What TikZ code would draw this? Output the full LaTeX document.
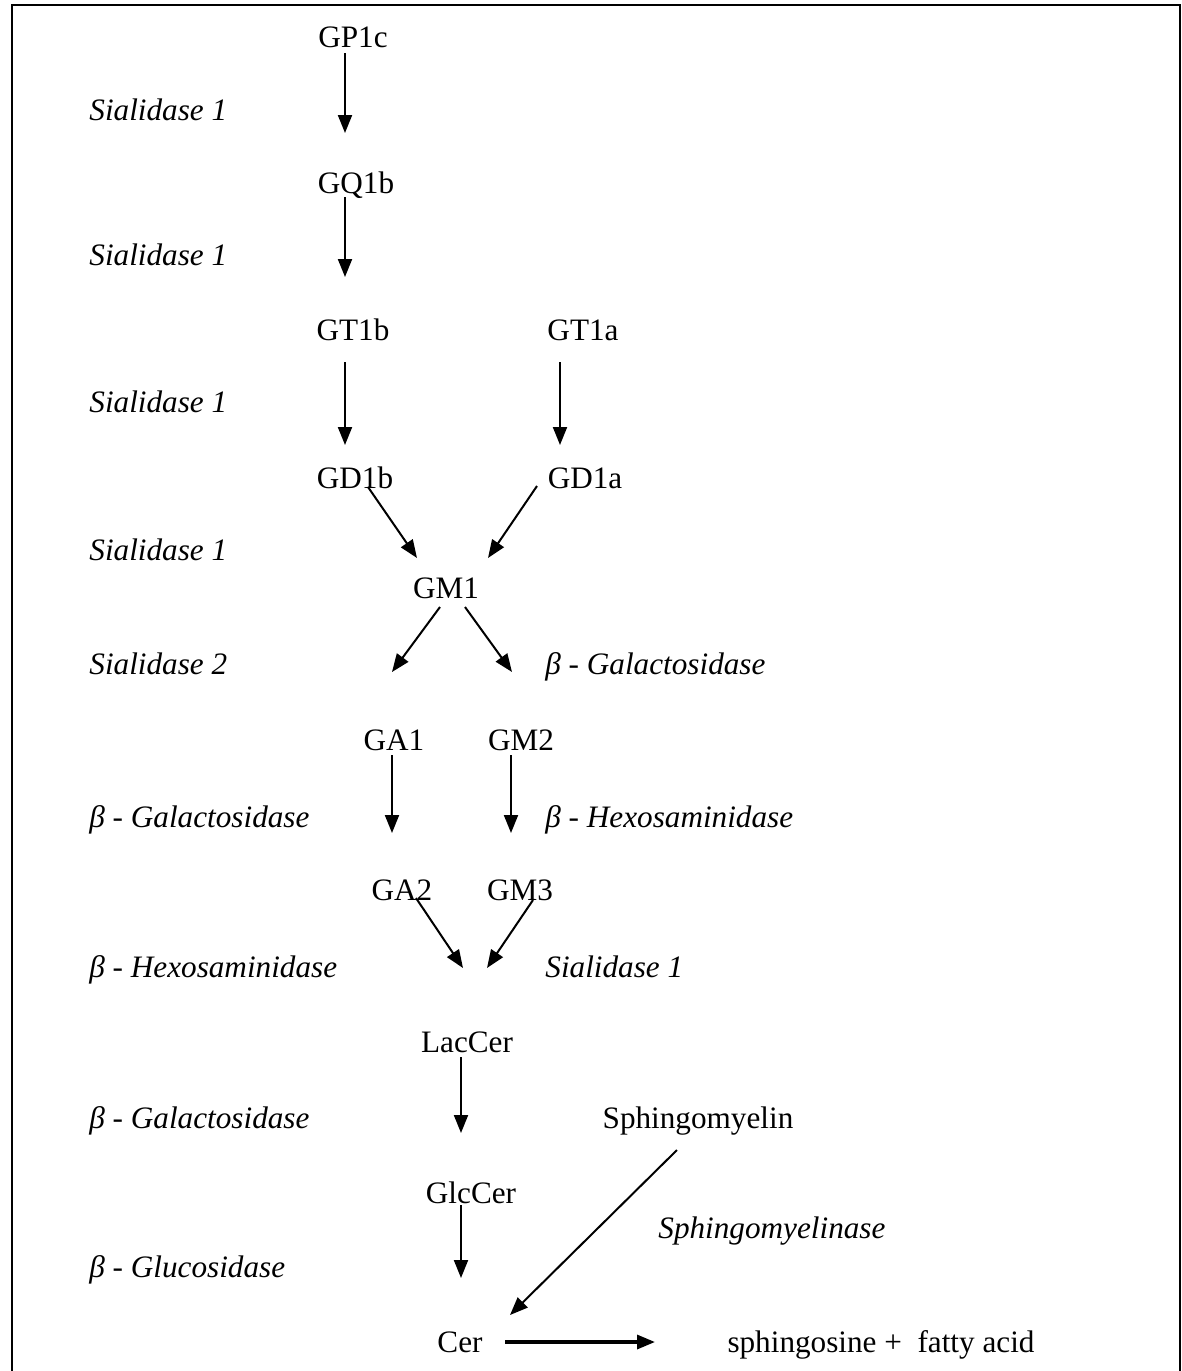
\documentclass[tikz,border=0pt]{standalone}
\usepackage{fontspec}
\setmainfont{Liberation Serif}
\usetikzlibrary{arrows.meta}
\begin{document}
\begin{tikzpicture}[x=0.5pt,y=-0.5pt,
  every node/.style={inner sep=0pt,font=\fontsize{15.6}{18}\selectfont},
  met/.style={anchor=base},
  enz/.style={anchor=base west,font=\fontsize{15.6}{18}\selectfont\itshape},
  conv/.style={line width=1pt,-{Triangle[length=9pt,width=7pt]}},
  frame/.style={line width=1pt}]
\useasboundingbox (0,0) rectangle (1182,1371);
\draw[frame] (12,1371) -- (12,5) -- (1180,5) -- (1180,1371);

% metabolites
\node[met] (gp1c) at (353,47) {GP1c};
\node[met] (gq1b) at (356,193) {GQ1b};
\node[met] (gt1b) at (353,340) {GT1b};
\node[met] (gt1a) at (583,340) {GT1a};
\node[met] (gd1b) at (355,488) {GD1b};
\node[met] (gd1a) at (585,488) {GD1a};
\node[met] (gm1) at (446,598) {GM1};
\node[met] (ga1) at (394,750) {GA1};
\node[met] (gm2) at (521,750) {GM2};
\node[met] (ga2) at (402,900) {GA2};
\node[met] (gm3) at (520,900) {GM3};
\node[met] (laccer) at (467,1052) {LacCer};
\node[met] (sphm) at (698,1128) {Sphingomyelin};
\node[met] (glccer) at (471,1203) {GlcCer};
\node[met] (cer) at (460,1352) {Cer};
\node[met] (prod) at (881,1352) {sphingosine +\ \ fatty acid};

% enzymes
\node[enz] (e1) at (89,120) {Sialidase 1};
\node[enz] (e2) at (89,265) {Sialidase 1};
\node[enz] (e3) at (89,412) {Sialidase 1};
\node[enz] (e4) at (89,560) {Sialidase 1};
\node[enz] (e5) at (89,674) {Sialidase 2};
\node[enz] (e6) at (545,674) {β - Galactosidase};
\node[enz] (e7) at (89,827) {β - Galactosidase};
\node[enz] (e8) at (545,827) {β - Hexosaminidase};
\node[enz] (e9) at (89,977) {β - Hexosaminidase};
\node[enz] (e10) at (545,977) {Sialidase 1};
\node[enz] (e11) at (89,1128) {β - Galactosidase};
\node[enz] (e12) at (658,1238) {Sphingomyelinase};
\node[enz] (e13) at (89,1277) {β - Glucosidase};

% arrow end points
\coordinate (s1) at (345,53);   \coordinate (t1) at (345,133);
\coordinate (s2) at (345,197);  \coordinate (t2) at (345,277);
\coordinate (s3) at (345,362);  \coordinate (t3) at (345,445);
\coordinate (s4) at (560,362);  \coordinate (t4) at (560,445);
\coordinate (s5) at (368,487);  \coordinate (t5) at (417,558);
\coordinate (s6) at (537,486);  \coordinate (t6) at (488,558);
\coordinate (s7) at (440,607);  \coordinate (t7) at (392,672);
\coordinate (s8) at (465,607);  \coordinate (t8) at (512,672);
\coordinate (s9) at (392,755);  \coordinate (t9) at (392,833);
\coordinate (s10) at (511,755); \coordinate (t10) at (511,833);
\coordinate (s11) at (416,898); \coordinate (t11) at (463,968);
\coordinate (s12) at (533,900); \coordinate (t12) at (487,968);
\coordinate (s13) at (461,1057); \coordinate (t13) at (461,1133);
\coordinate (s14) at (677,1150); \coordinate (t14) at (510,1315);
\coordinate (s15) at (461,1205); \coordinate (t15) at (461,1278);
\coordinate (s16) at (505,1342); \coordinate (t16) at (655,1342);

\foreach \i in {1,...,15} {\draw[conv] (s\i) -- (t\i);}
\draw[conv,line width=1.6pt] (s16) -- (t16);
\end{tikzpicture}
\end{document}
